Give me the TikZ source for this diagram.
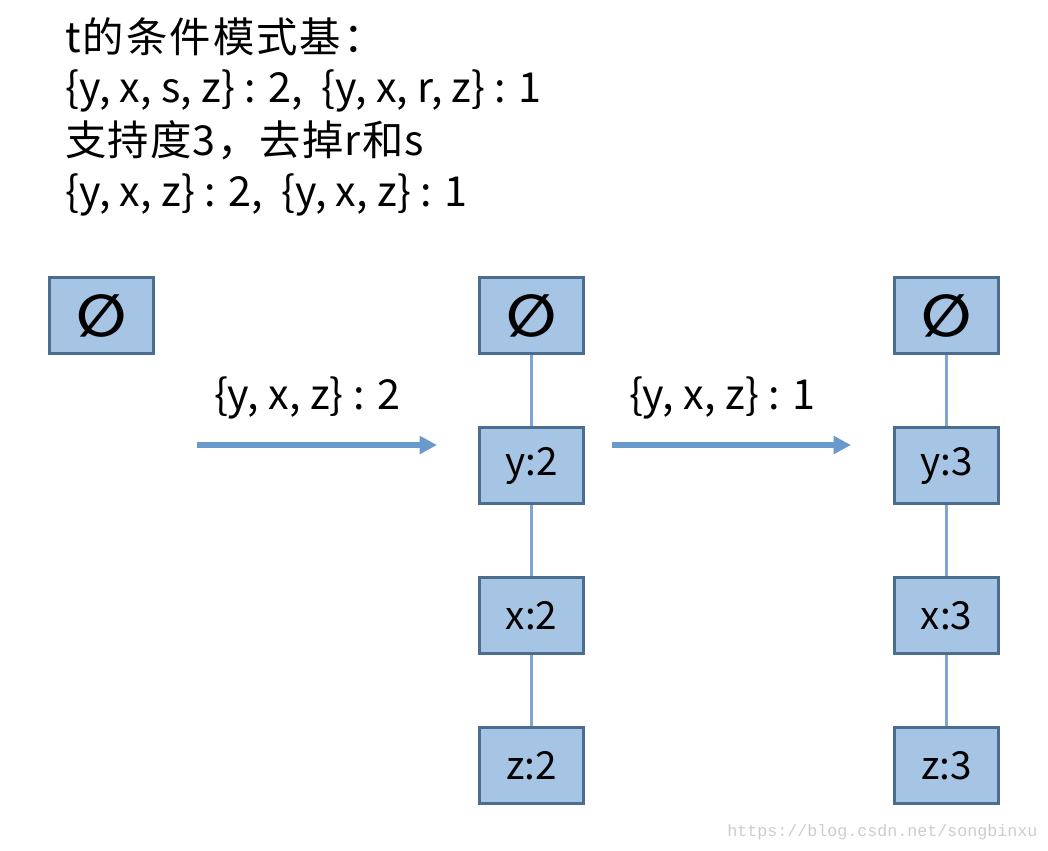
\documentclass[tikz,border=0pt]{standalone}
\usepackage{fontspec}
\setmainfont{Noto Sans CJK SC}
\newfontfamily\symfont{DejaVu Sans}
\setmonofont{Liberation Mono}
\usetikzlibrary{arrows.meta}
\definecolor{boxfill}{HTML}{A6C4E4}
\definecolor{boxedge}{HTML}{4B6D8F}
\definecolor{linkc}{HTML}{7FA6D2}
\definecolor{arrowc}{HTML}{6A9ACC}
\begin{document}
\begin{tikzpicture}[x=0.75pt,y=-0.75pt,
  tree/.style={draw=boxedge,fill=boxfill,line width=2.25pt,minimum width=78pt,minimum height=57pt,inner sep=0pt,font=\fontsize{29}{30}\selectfont},
  empty/.style={tree,font=\symfont\bfseries\fontsize{44}{44}\selectfont},
  link/.style={draw=linkc,line width=1.6pt},
  flow/.style={draw=arrowc,line width=3.8pt,-{Triangle[length=13pt,width=13pt]}},
  txt/.style={anchor=base west,inner sep=0pt,font=\fontsize{31}{32}\selectfont},
  lbl/.style={inner sep=0pt,font=\fontsize{31}{32}\selectfont}]
\useasboundingbox (0,0) rectangle (1048,850);
\node[txt] (l1) at (65,52) {\addfontfeature{LetterSpace=5}t的条件模式基：};
\node[txt] (l2) at (65,102) {\{y, x, s, z\} : 2,\ \ \{y, x, r, z\} : 1};
\node[txt] (l3) at (65,155) {\addfontfeature{LetterSpace=3}支持度3，去掉r和s};
\node[txt] (l4) at (65,206) {\{y, x, z\} : 2,\ \ \{y, x, z\} : 1};

\node[empty] (e0) at (101.5,315.5) {∅};

\node[empty] (e1) at (531.5,315.5) {∅};
\node[tree] (y1) at (531.5,465.5) {y:2};
\node[tree] (x1) at (531.5,615.5) {x:2};
\node[tree] (z1) at (531.5,765.5) {z:2};

\node[empty] (e2) at (946.5,315.5) {∅};
\node[tree] (y2) at (946.5,465.5) {y:3};
\node[tree] (x2) at (946.5,615.5) {x:3};
\node[tree] (z2) at (946.5,765.5) {z:3};

\draw[link] (e1) -- (y1); \draw[link] (y1) -- (x1); \draw[link] (x1) -- (z1);
\draw[link] (e2) -- (y2); \draw[link] (y2) -- (x2); \draw[link] (x2) -- (z2);

\coordinate (a1s) at (197,445); \coordinate (a1e) at (437,445);
\coordinate (a2s) at (612,445); \coordinate (a2e) at (851,445);
\draw[flow] (a1s) -- (a1e);
\draw[flow] (a2s) -- (a2e);
\node[lbl] (t1) at (307,398) {\{y, x, z\} : 2};
\node[lbl] (t2) at (722,398) {\{y, x, z\} : 1};

\node[anchor=base west,inner sep=0pt,text=black!20,font=\ttfamily\fontsize{12.5}{14}\selectfont] (wm) at (727,836) {https://blog.csdn.net/songbinxu};
\end{tikzpicture}
\end{document}
